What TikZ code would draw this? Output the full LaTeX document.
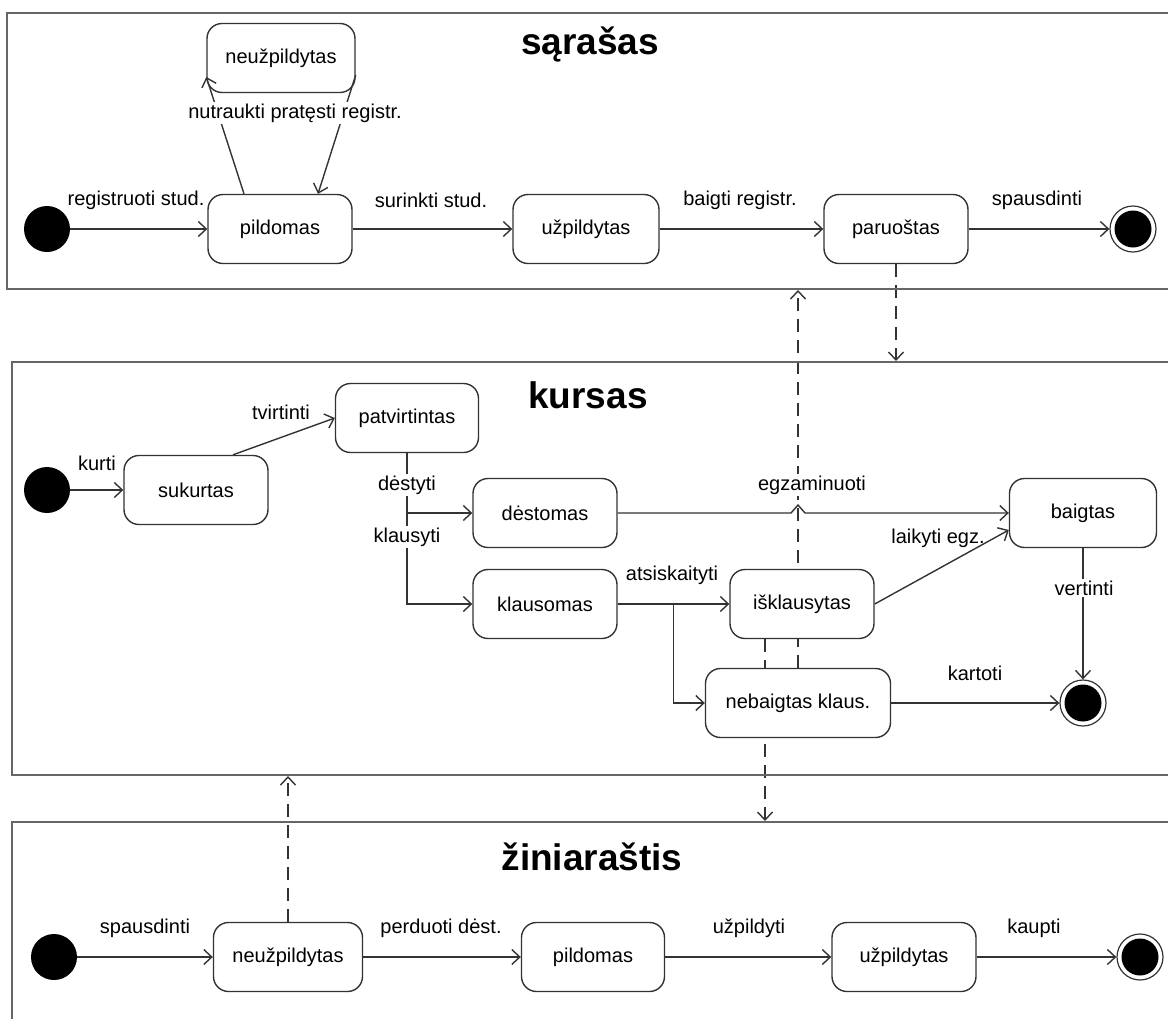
\documentclass[tikz,border=0pt]{standalone}
\usepackage{fontspec}
\setmainfont{Liberation Sans}
\usetikzlibrary{arrows.meta}
\usetikzlibrary{calc}
\usetikzlibrary{backgrounds}

\begin{document}
\begin{tikzpicture}[x=1pt,y=1pt,yscale=-1,xscale=1,
  >={Straight Barb[length=8pt,width=15pt]},
  state/.style={draw=black!80,line width=1.4pt,fill=white,rounded corners=15pt,minimum width=144pt,minimum height=69pt,inner sep=0pt,font=\fontsize{20}{24}\selectfont},
  start/.style={circle,fill=black,minimum size=46pt,inner sep=0pt},
  finish/.style={circle,draw=black!80,line width=1.2pt,fill=white,minimum size=46pt,inner sep=0pt,
    path picture={\fill[black] (path picture bounding box.center) circle[radius=18.5pt];}},
  lbl/.style={inner sep=1pt,font=\fontsize{20}{24}\selectfont},
  lblw/.style={lbl,fill=white,inner sep=2pt},
  title/.style={font=\bfseries\fontsize{37}{44}\selectfont},
  frame/.style={draw=black!60,line width=2.5pt},
  trans/.style={draw=black!80,line width=1.4pt,->},
  dep/.style={draw=black!80,line width=1.4pt,dash pattern=on 13pt off 8pt,->}]
\useasboundingbox (0,0) rectangle (1168,1018);

%Frames
\draw [frame] (7,13) rectangle (1200,289);
\draw [frame] (12,362) rectangle (1200,775);
\draw [frame] (12,822) rectangle (1200,1060);
\coordinate (saraseBot) at (0,290);
\coordinate (kursasTop) at (0,361);
\coordinate (kursasBot) at (0,776);
\coordinate (ziniarTop) at (0,821);

% Titles
\node [title] (tSarasas) at (590,45) {sąrašas};
\node [title] (tKursas) at (588,395) {kursas};
\node [title] (tZiniar) at (592,857) {žiniaraštis};

%States: sarasas
\node [start] (s1) at (47,229) {};
\node [state] (pildomas) at (280,229) {pildomas};
\node [state,minimum width=148pt] (neuzpildytas) at (281,58) {neužpildytas};
\node [state,minimum width=146pt] (uzpildytas) at (586,229) {užpildytas};
\node [state] (paruostas) at (896,229) {paruoštas};
\node [finish] (f1) at (1133,229) {};

%States: kursas
\node [start] (s2) at (47,490) {};
\node [state] (sukurtas) at (196,490) {sukurtas};
\node [state,minimum width=143pt] (patvirtintas) at (407,418) {patvirtintas};
\node [state] (destomas) at (545,513) {dėstomas};
\node [state] (klausomas) at (545,604) {klausomas};
\node [state] (isklausytas) at (802,604) {išklausytas};
\node [state,minimum width=185pt] (nebaigtas) at (798,703) {nebaigtas klaus.};
\node [state,minimum width=147pt] (baigtas) at (1083,513) {baigtas};
\node [finish] (f2) at (1083,703) {};

%States: ziniarastis
\node [start] (s3) at (54,957) {};
\node [state,minimum width=149pt] (zNeuzpildytas) at (288,957) {neužpildytas};
\node [state,minimum width=143pt] (zPildomas) at (593,957) {pildomas};
\node [state] (zUzpildytas) at (904,957) {užpildytas};
\node [finish] (f3) at (1140,957) {};

% Dependencies
\begin{scope}[on background layer]
\draw [dep] (paruostas.south) -- (paruostas.south |- kursasTop);
\draw [dep] (nebaigtas.north) -- (nebaigtas.north |- saraseBot);
\draw [dep] ($(isklausytas.south)+(-37,0)$) -- ($(isklausytas.south |- ziniarTop)+(-37,0)$);
\draw [dep] (zNeuzpildytas.north) -- (zNeuzpildytas.north |- kursasBot);
\end{scope}

% Transitions: sarasas
\draw [trans] (s1) -- (pildomas);
\draw [trans] ($(pildomas.north)+(-36,0)$) -- ($(neuzpildytas.west)+(0,19)$);
\draw [trans] ($(neuzpildytas.east)+(0,17)$) -- ($(pildomas.north)+(38,0)$);
\draw [trans] (pildomas) -- (uzpildytas);
\draw [trans] (uzpildytas) -- (paruostas);
\draw [trans] (paruostas) -- (f1);

% Transitions: kursas
\draw [trans] (s2) -- (sukurtas);
\draw [trans] ($(sukurtas.north)+(37,0)$) -- (patvirtintas.west);
\draw [trans] (patvirtintas.south) |- (klausomas.west);
\draw [trans] (patvirtintas.south |- destomas.west) -- (destomas.west);
\coordinate (hop) at (nebaigtas.north |- destomas.east);
\draw [trans] (destomas.east) -- ($(hop)+(-7,0)$) -- ($(hop)+(0,-8)$) -- ($(hop)+(7,0)$) -- (baigtas.west);
\draw [trans] (klausomas.east) -- (isklausytas.west);
\coordinate (split) at ($(klausomas.east)!0.5!(isklausytas.west)$);
\draw [trans] (split) |- (nebaigtas.west);
\draw [trans] (isklausytas.east) -- ($(baigtas.west)+(0,17)$);
\draw [trans] (baigtas.south) -- (f2.north);
\draw [trans] (nebaigtas.east) -- (f2.west);

% Transitions: ziniarastis
\draw [trans] (s3) -- (zNeuzpildytas);
\draw [trans] (zNeuzpildytas) -- (zPildomas);
\draw [trans] (zPildomas) -- (zUzpildytas);
\draw [trans] (zUzpildytas) -- (f3);

% Text Node
\node [lbl] (lRegistruoti) at (136,200) {registruoti stud.};
% Text Node
\node [lblw] (lNutraukti) at (295,113) {nutraukti pratęsti registr.};
% Text Node
\node [lbl] (lSurinkti) at (431,200) {surinkti stud.};
% Text Node
\node [lbl] (lBaigti) at (740,200) {baigti registr.};
% Text Node
\node [lbl] (lSpausdinti) at (1037,200) {spausdinti};
% Text Node
\node [lbl] (lKurti) at (97,463) {kurti};
% Text Node
\node [lbl] (lTvirtinti) at (281,412) {tvirtinti};
% Text Node
\node [lblw] (lDestyti) at (407,485) {dėstyti};
% Text Node
\node [lblw] (lKlausyti) at (407,537) {klausyti};
% Text Node
\node [lblw] (lEgzaminuoti) at (812,485) {egzaminuoti};
% Text Node
\node [lbl] (lLaikyti) at (938,538) {laikyti egz.};
% Text Node
\node [lbl] (lAtsiskaityti) at (672,575) {atsiskaityti};
% Text Node
\node [lblw] (lVertinti) at (1084,588) {vertinti};
% Text Node
\node [lbl] (lKartoti) at (975,673) {kartoti};
% Text Node
\node [lbl] (lSpausdinti2) at (145,928) {spausdinti};
% Text Node
\node [lbl] (lPerduoti) at (441,928) {perduoti dėst.};
% Text Node
\node [lbl] (lUzpildyti) at (749,928) {užpildyti};
% Text Node
\node [lbl] (lKaupti) at (1034,928) {kaupti};

\end{tikzpicture}
\end{document}
